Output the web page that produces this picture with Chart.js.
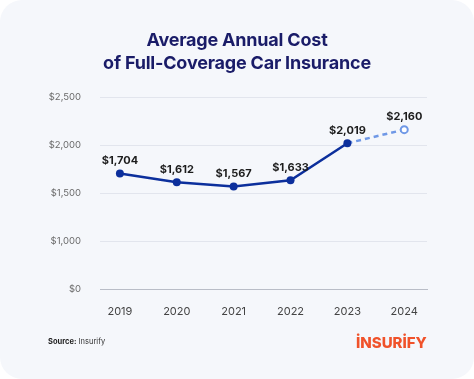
<!DOCTYPE html>
<html>
<head>
<meta charset="utf-8">
<script src="https://cdn.jsdelivr.net/npm/chart.js@4"></script>
<style>
  html, body { margin: 0; padding: 0; background: #ffffff; }
  .card {
    position: relative; width: 474px; height: 379px;
    background: #f5f7fb; border-radius: 22px; overflow: hidden;
    font-family: Inter, "Open Sans", sans-serif;
  }
  .title {
    position: absolute; left: 0; right: 0; top: 28px;
    text-align: center; color: #1a1c68;
    font-size: 18px; font-weight: 700; line-height: 23px; letter-spacing: -0.2px;
  }
  .source {
    position: absolute; left: 48px; top: 337px;
    font-size: 7.5px; color: #333;
  }
  .source b { font-weight: 700; color: #222; }
  .logo {
    position: absolute; left: 356px; top: 333px;
    font-size: 15px; font-weight: 800; color: #f0522a; letter-spacing: 0;
  }
  canvas { position: absolute; left: 0; top: 0; }
</style>
</head>
<body>
<div class="card">
  <canvas id="chart" width="474" height="379"></canvas>
  <div class="title">Average Annual Cost<br>of Full-Coverage Car Insurance</div>
  <div class="source"><b>Source:</b> Insurify</div>
  <div class="logo">İNSURİFY</div>
</div>
<script>
// Data
const years = [2019, 2020, 2021, 2022, 2023, 2024];
const actualCost = [1704, 1612, 1567, 1633, 2019];
const forecastCost = 2160;
// The y axis has a break: the bottom slot is labelled $0
const tickValues = [500, 1000, 1500, 2000, 2500];
const tickLabels = ['$0', '$1,000', '$1,500', '$2,000', '$2,500'];

const money = (v) => '$' + v.toLocaleString('en-US');

const actualData = actualCost.map((v, i) => ({ x: years[i], y: v }));
const forecastData = [
  { x: years[actualCost.length - 1], y: actualCost[actualCost.length - 1] },
  { x: years[years.length - 1], y: forecastCost },
];

// value labels above each point
const valueLabels = {
  id: 'valueLabels',
  afterDatasetsDraw(chart) {
    const ctx = chart.ctx;
    ctx.save();
    ctx.font = '700 11px Inter, "Open Sans", sans-serif';
    ctx.fillStyle = '#1c1c1c';
    ctx.textAlign = 'center';
    ctx.textBaseline = 'bottom';
    chart.getDatasetMeta(0).data.forEach((pt, i) => {
      ctx.fillText(money(actualCost[i]), pt.x, pt.y - 7);
    });
    const last = chart.getDatasetMeta(1).data[1];
    ctx.fillText(money(forecastCost), last.x, last.y - 7);
    ctx.restore();
  },
};

new Chart(document.getElementById('chart'), {
  type: 'line',
  data: {
    datasets: [
      {
        data: actualData,
        borderColor: '#0c2f9c',
        backgroundColor: '#0c2f9c',
        borderWidth: 2.5,
        pointRadius: 4,
        pointBorderWidth: 0,
        tension: 0,
      },
      {
        data: forecastData,
        borderColor: '#6f98e6',
        borderWidth: 2.5,
        borderDash: [5, 4],
        pointRadius: [0, 3.5],
        pointBackgroundColor: '#ffffff',
        pointBorderColor: '#6f98e6',
        pointBorderWidth: 2,
        tension: 0,
      },
    ],
  },
  options: {
    responsive: false,
    animation: false,
    layout: { padding: { left: 40, right: 47, top: 97, bottom: 0 } },
    plugins: { legend: { display: false }, tooltip: { enabled: false } },
    scales: {
      x: {
        type: 'linear',
        min: 2018.65,
        max: 2024.4,
        afterBuildTicks: (s) => { s.ticks = years.map((v) => ({ value: v })); },
        afterFit: (s) => { s.height = 90; },
        grid: { display: false },
        border: { display: true, color: '#b9bdc7', width: 1 },
        ticks: {
          padding: 8,
          color: '#444',
          font: { family: 'Inter, "Open Sans", sans-serif', size: 11 },
          callback: (v) => String(v),
        },
      },
      y: {
        min: 500,
        max: 2500,
        afterBuildTicks: (s) => { s.ticks = tickValues.map((v) => ({ value: v })); },
        afterFit: (s) => { s.width = 60; },
        grid: { color: '#e2e5ed', drawTicks: false },
        border: { display: false },
        ticks: {
          padding: 19,
          color: '#6a6a6a',
          font: { family: 'Inter, "Open Sans", sans-serif', size: 9.5 },
          callback: (v) => tickLabels[tickValues.indexOf(v)],
        },
      },
    },
  },
  plugins: [valueLabels],
});
</script>
</body>
</html>
